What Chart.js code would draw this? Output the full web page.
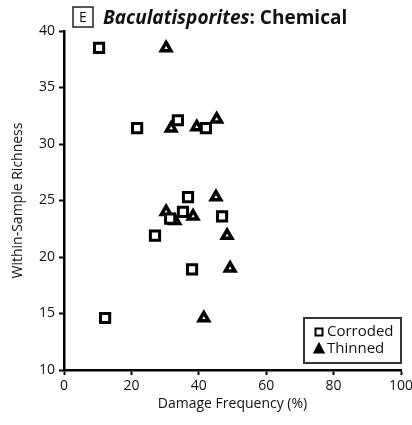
<!DOCTYPE html>
<html>
<head>
<meta charset="utf-8">
<script src="https://cdn.jsdelivr.net/npm/chart.js@4.4.1/dist/chart.umd.min.js"></script>
<style>
  html, body { margin: 0; padding: 0; background: #fff; }
  #wrap { width: 412px; height: 425px; }
</style>
</head>
<body>
<div id="wrap"><canvas id="damageChart" width="412" height="425"></canvas></div>
<script>
// Baculatisporites, chemical damage
var corrodedX = [10.4, 21.7, 33.8, 42.1, 36.8, 35.3, 31.5, 46.9, 27.0, 38.0, 12.2];
var corrodedY = [38.5, 31.4, 32.1, 31.4, 25.3, 24.0, 23.4, 23.6, 21.9, 18.9, 14.6];
var thinnedX = [30.3, 31.8, 39.4, 45.3, 45.1, 30.3, 32.9, 38.3, 48.4, 49.3, 41.5];
var thinnedY = [38.5, 31.4, 31.5, 32.2, 25.3, 24.0, 23.2, 23.6, 21.9, 19.0, 14.6];
var seriesNames = ["Corroded", "Thinned"];
var xTicks = [0, 20, 40, 60, 80, 100];
var yTicks = [10, 15, 20, 25, 30, 35, 40];

var FONT = "'Open Sans', 'DejaVu Sans', sans-serif";

function toPoints(xs, ys) {
  return xs.map(function (x, i) { return { x: x, y: ys[i] }; });
}

// panel title: boxed letter + italic genus name
var titlePlugin = {
  id: "panelTitle",
  afterDraw: function (chart) {
    var ctx = chart.ctx;
    ctx.save();
    ctx.strokeStyle = "#222";
    ctx.lineWidth = 1.5;
    ctx.strokeRect(73, 7, 20, 20);
    ctx.fillStyle = "#111";
    ctx.textBaseline = "alphabetic";
    ctx.font = "14px " + FONT;
    ctx.textAlign = "center";
    ctx.fillText("E", 83, 22);
    ctx.textAlign = "left";
    ctx.font = "italic bold 19px " + FONT;
    ctx.fillText("Baculatisporites", 103, 24);
    var w = ctx.measureText("Baculatisporites").width;
    ctx.font = "bold 19px " + FONT;
    ctx.fillText(": Chemical", 103 + w, 24);
    ctx.restore();
  }
};

// boxed legend in the lower right corner
var legendPlugin = {
  id: "boxLegend",
  afterDraw: function (chart) {
    var ctx = chart.ctx;
    ctx.save();
    ctx.fillStyle = "#fff";
    ctx.fillRect(304, 318, 97, 45);
    ctx.strokeStyle = "#333";
    ctx.lineWidth = 2;
    ctx.strokeRect(304, 318, 97, 45);
    chart.data.datasets.forEach(function (ds, i) {
      var y = 332 + i * 17;
      ctx.fillStyle = "#fff";
      ctx.strokeStyle = "#000";
      ctx.lineWidth = 2;
      ctx.beginPath();
      if (ds.pointStyle === "rect") {
        ctx.rect(315.5, y - 3.5, 7, 7);
      } else {
        ctx.moveTo(319, y - 5);
        ctx.lineTo(323.5, y + 3.5);
        ctx.lineTo(314.5, y + 3.5);
        ctx.closePath();
        ctx.fillStyle = "#000";
      }
      ctx.fill();
      ctx.stroke();
      ctx.fillStyle = "#111";
      ctx.font = "15px " + FONT;
      ctx.textBaseline = "middle";
      ctx.textAlign = "left";
      ctx.fillText(seriesNames[i], 327, y);
    });
    ctx.restore();
  }
};

var ctxDamage = document.getElementById("damageChart").getContext("2d");
new Chart(ctxDamage, {
  type: "scatter",
  data: {
    datasets: [
      {
        label: seriesNames[0],
        data: toPoints(corrodedX, corrodedY),
        pointStyle: "rect",
        pointRadius: 6.5,
        pointHoverRadius: 6.5,
        backgroundColor: "#fff",
        borderColor: "#000",
        borderWidth: 3
      },
      {
        label: seriesNames[1],
        data: toPoints(thinnedX, thinnedY),
        pointStyle: "triangle",
        pointRadius: 5.5,
        pointHoverRadius: 5.5,
        backgroundColor: "#fff",
        borderColor: "#000",
        borderWidth: 3.5
      }
    ]
  },
  options: {
    responsive: false,
    animation: false,
    layout: { padding: { top: 31, right: 0, left: 10, bottom: 13 } },
    plugins: {
      legend: { display: false },
      tooltip: { enabled: false }
    },
    scales: {
      x: {
        type: "linear",
        min: 0,
        max: 100,
        afterBuildTicks: function (scale) {
          scale.ticks = xTicks.map(function (v) { return { value: v }; });
        },
        afterFit: function (scale) {
          scale.height = 42;
          scale.paddingRight = 11;
        },
        border: { display: true, color: "#000", width: 2.5 },
        grid: { drawOnChartArea: false, tickLength: 5, tickColor: "#000", tickWidth: 2 },
        ticks: { color: "#111", font: { family: FONT, size: 14 }, padding: 3, maxRotation: 0 },
        title: {
          display: true,
          text: "Damage Frequency (%)",
          color: "#111",
          font: { family: FONT, size: 14 },
          padding: { top: 0, bottom: 0 }
        }
      },
      y: {
        type: "linear",
        min: 10,
        max: 40,
        afterBuildTicks: function (scale) {
          scale.ticks = yTicks.map(function (v) { return { value: v }; });
        },
        afterFit: function (scale) { scale.width = 54; },
        border: { display: true, color: "#000", width: 2.5 },
        grid: { drawOnChartArea: false, tickLength: 5, tickColor: "#000", tickWidth: 2 },
        ticks: { color: "#111", font: { family: FONT, size: 14 }, padding: 4 },
        title: {
          display: true,
          text: "Within-Sample Richness",
          color: "#111",
          font: { family: FONT, size: 14 },
          padding: { top: 0, bottom: 0 }
        }
      }
    }
  },
  plugins: [titlePlugin, legendPlugin]
});
</script>
</body>
</html>
